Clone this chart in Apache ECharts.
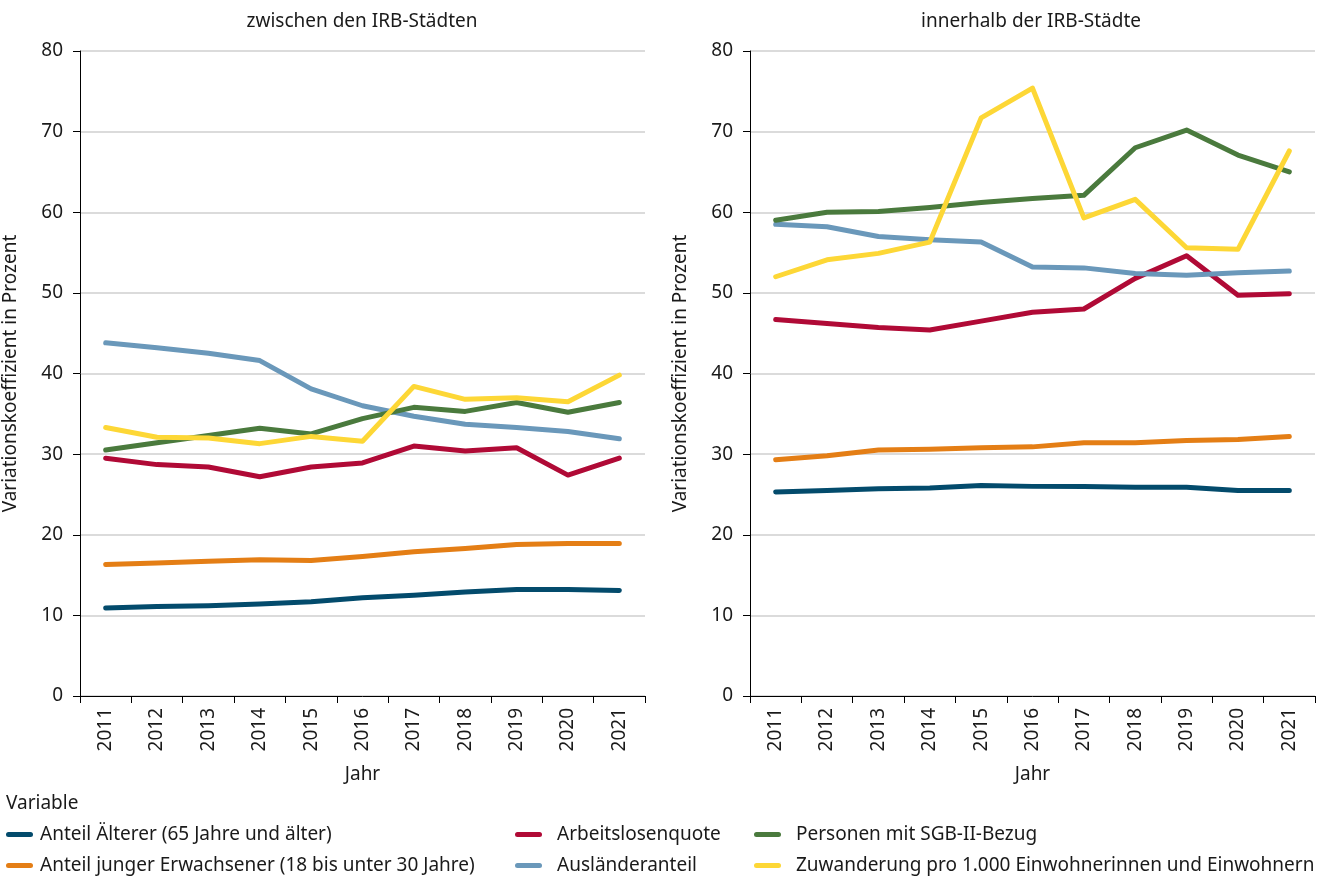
<!DOCTYPE html>
<html>
<head>
<meta charset="utf-8">
<script src="https://cdn.jsdelivr.net/npm/echarts@6/dist/echarts.min.js"></script>
<style>
  html, body { margin: 0; padding: 0; background: #fff; }
  #chart { width: 1317px; height: 876px; }
</style>
</head>
<body>
<div id="chart"></div>
<script>
// Jahre
const years = ['2011','2012','2013','2014','2015','2016','2017','2018','2019','2020','2021'];
const yTicks = [0, 10, 20, 30, 40, 50, 60, 70, 80];

const panelTitles = ['zwischen den IRB-Städten', 'innerhalb der IRB-Städte'];
const seriesNames = [
  'Anteil Älterer (65 Jahre und älter)',
  'Anteil junger Erwachsener (18 bis unter 30 Jahre)',
  'Arbeitslosenquote',
  'Ausländeranteil',
  'Personen mit SGB-II-Bezug',
  'Zuwanderung pro 1.000 Einwohnerinnen und Einwohnern'
];
const seriesColors = ['#034b6c', '#e47e15', '#b00a36', '#6a98ba', '#4a7a3d', '#fdd736'];

// Variationskoeffizient zwischen den IRB-Städten
const betweenAelterer   = [10.9, 11.1, 11.2, 11.4, 11.7, 12.2, 12.5, 12.9, 13.2, 13.2, 13.1];
const betweenJunge      = [16.3, 16.5, 16.7, 16.9, 16.8, 17.3, 17.9, 18.3, 18.8, 18.9, 18.9];
const betweenArbeitslos = [29.5, 28.7, 28.4, 27.2, 28.4, 28.9, 31.0, 30.4, 30.8, 27.4, 29.5];
const betweenAuslaender = [43.8, 43.2, 42.5, 41.6, 38.1, 36.0, 34.7, 33.7, 33.3, 32.8, 31.9];
const betweenSGB        = [30.5, 31.4, 32.3, 33.2, 32.5, 34.4, 35.8, 35.3, 36.4, 35.2, 36.4];
const betweenZuwanderung= [33.3, 32.1, 32.0, 31.3, 32.2, 31.6, 38.4, 36.8, 37.0, 36.5, 39.8];

// Variationskoeffizient innerhalb der IRB-Städte
const withinAelterer    = [25.3, 25.5, 25.7, 25.8, 26.1, 26.0, 26.0, 25.9, 25.9, 25.5, 25.5];
const withinJunge       = [29.3, 29.8, 30.5, 30.6, 30.8, 30.9, 31.4, 31.4, 31.7, 31.8, 32.2];
const withinArbeitslos  = [46.7, 46.2, 45.7, 45.4, 46.5, 47.6, 48.0, 51.8, 54.6, 49.7, 49.9];
const withinAuslaender  = [58.5, 58.2, 57.0, 56.6, 56.3, 53.2, 53.1, 52.4, 52.2, 52.5, 52.7];
const withinSGB         = [59.0, 60.0, 60.1, 60.6, 61.2, 61.7, 62.1, 68.0, 70.2, 67.1, 65.0];
const withinZuwanderung = [52.0, 54.1, 54.9, 56.3, 71.7, 75.4, 59.3, 61.6, 55.6, 55.4, 67.6];

const betweenData = [betweenAelterer, betweenJunge, betweenArbeitslos, betweenAuslaender, betweenSGB, betweenZuwanderung];
const withinData  = [withinAelterer, withinJunge, withinArbeitslos, withinAuslaender, withinSGB, withinZuwanderung];

const FONT = 'Noto Sans';
const TEXT = '#1a1a1a';
const FS = 19;

const chart = echarts.init(document.getElementById('chart'), null, { renderer: 'canvas' });

function xAxisFor(gridIndex) {
  return {
    type: 'category',
    gridIndex,
    data: years,
    boundaryGap: true,
    name: 'Jahr',
    nameLocation: 'middle',
    nameGap: 69,
    nameTextStyle: { fontFamily: FONT, fontSize: FS, color: TEXT },
    axisLine: { lineStyle: { color: '#000', width: 1 } },
    axisTick: { show: true, length: 7, alignWithLabel: false, lineStyle: { color: '#000' } },
    axisLabel: { rotate: 90, margin: 12, fontFamily: FONT, fontSize: FS, color: TEXT },
    splitLine: { show: false }
  };
}

function yAxisFor(gridIndex) {
  return {
    type: 'value',
    gridIndex,
    min: 0,
    max: 80,
    interval: 10,
    name: 'Variationskoeffizient in Prozent',
    nameLocation: 'middle',
    nameGap: 60,
    nameTextStyle: { fontFamily: FONT, fontSize: FS, color: TEXT },
    axisLine: { show: true, lineStyle: { color: '#000', width: 1 } },
    axisTick: { show: true, length: 7, lineStyle: { color: '#000' } },
    axisLabel: {
      margin: 17, fontFamily: FONT, fontSize: FS, color: TEXT,
      formatter: v => (yTicks.includes(v) ? String(v) : '')
    },
    splitLine: { show: true, lineStyle: { color: '#cfcfcf', width: 1.5 } }
  };
}

const series = [];
[betweenData, withinData].forEach((panel, p) => {
  panel.forEach((values, i) => {
    series.push({
      name: seriesNames[i],
      type: 'line',
      xAxisIndex: p,
      yAxisIndex: p,
      data: values,
      symbol: 'none',
      smooth: false,
      color: seriesColors[i],
      lineStyle: { width: 5, color: seriesColors[i], cap: 'round', join: 'round' },
      emphasis: { disabled: true },
      z: 3
    });
  });
});

// one legend entry per component, laid out as a 3-column, 2-row block
const legendIcon = 'path://M2.5,0 H24.5 A2.5,2.5 0 0 1 24.5,5 H2.5 A2.5,2.5 0 0 1 2.5,0 Z';
const legendSlots = [
  { left: 6,   top: 825, pad: 2 },
  { left: 6,   top: 856, pad: 2 },
  { left: 515, top: 825, pad: 10 },
  { left: 515, top: 856, pad: 10 },
  { left: 754, top: 825, pad: 10 },
  { left: 754, top: 856, pad: 10 }
];
const legends = legendSlots.map((slot, i) => ({
  left: slot.left,
  top: slot.top,
  padding: 0,
  itemWidth: 27,
  itemHeight: 5,
  icon: legendIcon,
  selectedMode: false,
  data: [seriesNames[i]],
  textStyle: { fontFamily: FONT, fontSize: FS, color: TEXT, padding: [0, 0, 0, slot.pad] }
}));

chart.setOption({
  animation: false,
  backgroundColor: '#ffffff',
  textStyle: { fontFamily: FONT },
  title: [
    { text: panelTitles[0], left: 362, top: 12, padding: 0, textAlign: 'center',
      textStyle: { fontFamily: FONT, fontSize: FS, fontWeight: 'normal', color: TEXT } },
    { text: panelTitles[1], left: 1031, top: 12, padding: 0, textAlign: 'center',
      textStyle: { fontFamily: FONT, fontSize: FS, fontWeight: 'normal', color: TEXT } },
    { text: 'Variable', left: 6, top: 794, padding: 0,
      textStyle: { fontFamily: FONT, fontSize: FS, fontWeight: 'normal', color: TEXT } }
  ],
  grid: [
    { left: 80, top: 51, width: 565, height: 645 },
    { left: 750, top: 51, width: 565, height: 645 }
  ],
  xAxis: [xAxisFor(0), xAxisFor(1)],
  yAxis: [yAxisFor(0), yAxisFor(1)],
  legend: legends,
  series
});
</script>
</body>
</html>
